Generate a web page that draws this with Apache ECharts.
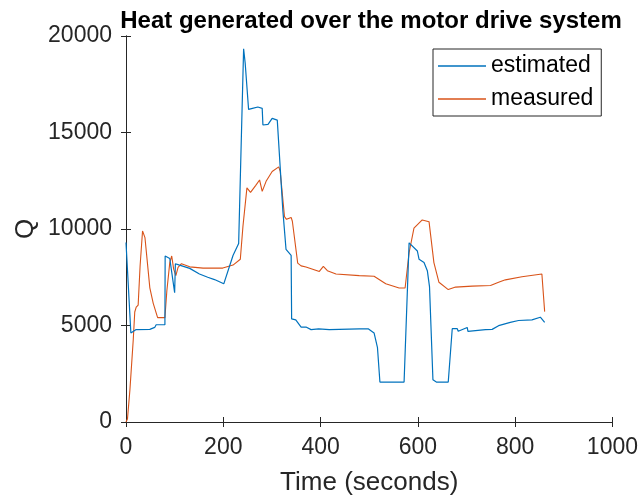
<!DOCTYPE html>
<html>
<head>
<meta charset="utf-8">
<script src="https://cdn.jsdelivr.net/npm/echarts@6/dist/echarts.min.js"></script>
<style>html,body{margin:0;padding:0;background:#fff;}#c{width:641px;height:501px;}</style>
</head>
<body>
<div id="c"></div>
<script>
var titleText = 'Heat generated over the motor drive system';
var seriesNames = ['estimated', 'measured'];
var xTicks = [0, 200, 400, 600, 800, 1000];
var yTicks = [0, 5000, 10000, 15000, 20000];

var tEst = [0, 10, 20, 49, 59, 62, 80, 80.5, 90, 100, 101.5, 110, 131, 151, 168, 182, 201, 220, 231.6, 241.8, 245, 252, 260, 263, 271, 280, 281.5, 292, 300.5, 311, 322.4, 329, 339.5, 340.5, 349, 360, 370, 380.5, 396, 418, 438.5, 479.5, 498.6, 510, 517, 522, 571.7, 575, 582, 599, 602.5, 612.7, 619.5, 624, 631, 638, 662.5, 670.7, 681, 683, 701.5, 703, 739, 752.7, 766, 790, 807, 834.6, 851.8, 860.7];
var qEst = [9300, 4615, 4785, 4800, 4900, 5040, 5040, 8600, 8470, 6700, 8200, 8130, 7960, 7670, 7500, 7380, 7160, 8630, 9250, 19340, 18600, 16200, 16250, 16150, 16320, 16250, 15390, 15420, 15730, 15640, 10980, 8940, 8630, 5340, 5290, 4920, 4920, 4785, 4830, 4785, 4800, 4820, 4820, 4615, 3850, 2070, 2070, 2070, 9280, 8860, 8430, 8260, 7840, 7000, 2190, 2070, 2070, 4835, 4835, 4700, 4900, 4700, 4785, 4800, 4990, 5160, 5260, 5290, 5430, 5160];

var tMeas = [0, 3, 8, 15, 18, 21, 25, 29, 34, 39, 49, 56, 65, 80, 84, 90, 94, 98, 102.5, 107, 114, 131, 158.5, 199, 220, 235, 240.4, 248.6, 256, 266.4, 274.6, 280, 288, 300.5, 314, 317, 325.8, 330, 339.5, 342, 353, 360, 370, 397.5, 405.7, 414, 431.7, 479.5, 510, 534, 561.5, 573.8, 582, 592, 609, 623, 633, 643.4, 662.5, 677.6, 711.7, 749.4, 766, 780, 814, 855, 860.7];
var qMeas = [0, 150, 1650, 4300, 5700, 5950, 6060, 8100, 9900, 9550, 6950, 6150, 5410, 5410, 6800, 8260, 8600, 7920, 7585, 8010, 8200, 8040, 7975, 7975, 8130, 8430, 10130, 12130, 11900, 12250, 12540, 11950, 12470, 12980, 13220, 12990, 10640, 10500, 10600, 10400, 8230, 8090, 8030, 7800, 8060, 7840, 7670, 7585, 7550, 7160, 6940, 6940, 8770, 10040, 10470, 10380, 8260, 7240, 6860, 6990, 7040, 7075, 7240, 7365, 7530, 7670, 5720];

function pairs(t, q) { return t.map(function (v, i) { return [v, q[i]]; }); }

var axisColor = '#262626';
var font = 'Liberation Sans, Arial, Helvetica, sans-serif';
function plain(v) { return String(v); }

var chart = echarts.init(document.getElementById('c'), null, {renderer: 'canvas'});
var boxAxisX = {
  min: xTicks[0], max: xTicks[xTicks.length - 1], interval: xTicks[1] - xTicks[0],
  axisLine: {show: true, lineStyle: {color: axisColor, width: 1}},
  axisTick: {show: true, inside: true, length: 5, lineStyle: {color: axisColor}},
  splitLine: {show: false}
};
var boxAxisY = {
  min: yTicks[0], max: yTicks[yTicks.length - 1], interval: yTicks[1] - yTicks[0],
  axisLine: {show: true, lineStyle: {color: axisColor, width: 1}},
  axisTick: {show: true, inside: true, length: 5, lineStyle: {color: axisColor}},
  splitLine: {show: false}
};
chart.setOption({
  animation: false,
  backgroundColor: '#ffffff',
  title: {
    text: titleText, left: 366, top: 4, textAlign: 'center',
    textStyle: {fontFamily: font, fontWeight: 'bold', fontSize: 24, color: '#000'}
  },
  legend: {
    data: seriesNames, orient: 'vertical', left: 433, top: 49,
    padding: [5, 8, 5, 5], itemGap: 9, itemWidth: 48, itemHeight: 1.5,
    icon: 'rect', backgroundColor: '#fff', borderColor: axisColor, borderWidth: 1, borderRadius: 0,
    textStyle: {fontFamily: font, fontSize: 23, color: '#000', lineHeight: 24}
  },
  grid: {left: 126, right: 27, top: 36, bottom: 72, containLabel: false},
  xAxis: [
    Object.assign({type: 'value', position: 'bottom', name: 'Time (seconds)', nameLocation: 'middle', nameGap: 48,
      nameMoveOverlap: false,
      nameTextStyle: {fontFamily: font, fontSize: 26, color: axisColor},
      axisLabel: {fontFamily: font, fontSize: 23, color: axisColor, margin: 14, formatter: plain}}, boxAxisX),
    Object.assign({type: 'value', position: 'top', axisLabel: {show: false}}, boxAxisX)
  ],
  yAxis: [
    Object.assign({type: 'value', position: 'left', name: 'Q', nameLocation: 'middle', nameGap: 87, nameRotate: 90,
      nameMoveOverlap: false,
      nameTextStyle: {fontFamily: font, fontSize: 26, color: axisColor},
      axisLabel: {fontFamily: font, fontSize: 23, color: axisColor, margin: 14, formatter: plain,
        padding: [6, 0, 0, 0]}}, boxAxisY),
    Object.assign({type: 'value', position: 'right', axisLabel: {show: false}}, boxAxisY)
  ],
  series: [
    {name: seriesNames[0], type: 'line', data: pairs(tEst, qEst), showSymbol: false, symbol: 'none',
      lineStyle: {color: '#0072BD', width: 1.2}, itemStyle: {color: '#0072BD'}, z: 3},
    {name: seriesNames[1], type: 'line', data: pairs(tMeas, qMeas), showSymbol: false, symbol: 'none',
      lineStyle: {color: '#D95319', width: 1.1}, itemStyle: {color: '#D95319'}, z: 2}
  ]
});
</script>
</body>
</html>
